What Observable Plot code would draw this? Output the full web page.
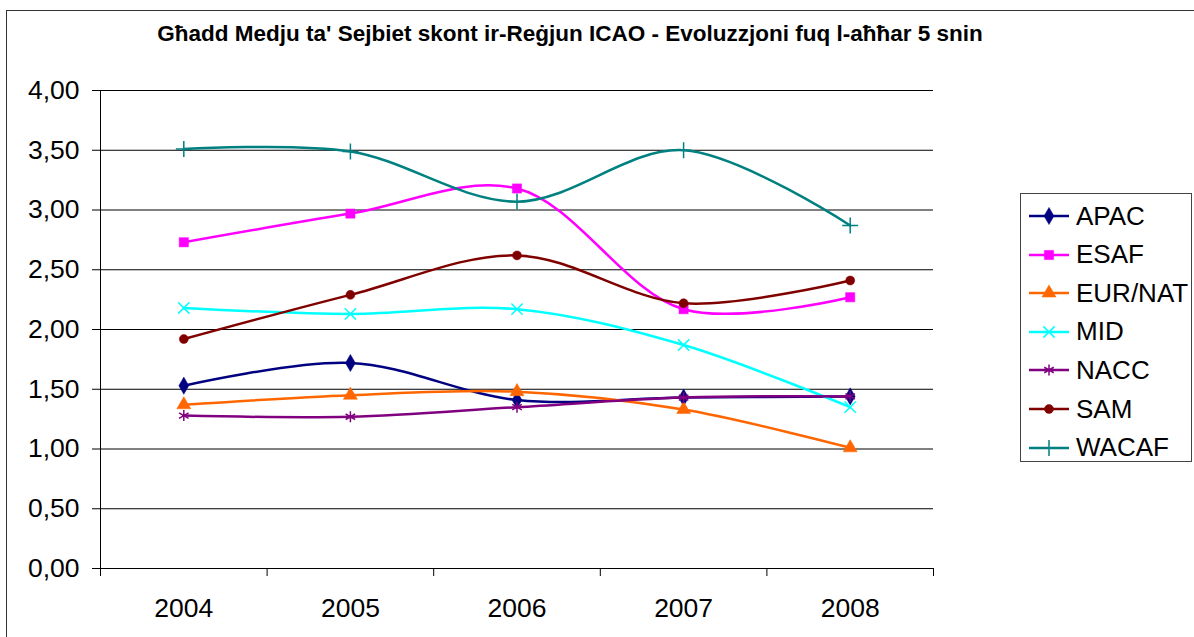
<!DOCTYPE html>
<html>
<head>
<meta charset="utf-8">
<script src="https://cdn.jsdelivr.net/npm/d3@7"></script>
<script src="https://cdn.jsdelivr.net/npm/@observablehq/plot@0.6"></script>
<style>
  html, body { margin: 0; padding: 0; background: #fff; overflow: hidden; }
  #wrap { position: relative; width: 1194px; height: 637px; font-family: "Liberation Sans", Arial, sans-serif; }
  #frame { position: absolute; left: 6px; top: 10px; width: 1300px; height: 700px; border-left: 1.5px solid #333; border-top: 1.5px solid #333; }
  #title { position: absolute; left: 0; width: 1140px; top: 21px; text-align: center; font-weight: bold; font-size: 22.5px; color: #000; font-family: "Liberation Sans", Arial, sans-serif; }
  #chart { position: absolute; left: 0; top: 0; }
  #legend { position: absolute; left: 1020px; top: 193px; width: 172px; height: 269px; border: 1px solid #444; box-sizing: border-box; background: #fff; }
  .row { position: absolute; left: 8px; height: 30px; display: flex; align-items: center; font-size: 26px; color: #000; }
  .row svg { margin-right: 7px; }
</style>
</head>
<body>
<div id="wrap">
  <div id="frame"></div>
  <div id="chart"></div>
  <div id="title">Għadd Medju ta' Sejbiet skont ir-Reġjun ICAO - Evoluzzjoni fuq l-aħħar 5 snin</div>
  <div id="legend"></div>
</div>
<script>
const years = [2004, 2005, 2006, 2007, 2008];
const yTicks = [0, 0.5, 1, 1.5, 2, 2.5, 3, 3.5, 4];

const APAC   = [1.53, 1.72, 1.41, 1.43, 1.44];
const ESAF   = [2.73, 2.97, 3.18, 2.17, 2.27];
const EURNAT = [1.37, 1.45, 1.48, 1.33, 1.01];
const MID    = [2.18, 2.13, 2.17, 1.87, 1.35];
const NACC   = [1.28, 1.27, 1.35, 1.43, 1.44];
const SAM    = [1.92, 2.29, 2.62, 2.22, 2.41];
const WACAF  = [3.51, 3.49, 3.07, 3.50, 2.87];

const seriesNames = ["APAC", "ESAF", "EUR/NAT", "MID", "NACC", "SAM", "WACAF"];
const seriesValues = [APAC, ESAF, EURNAT, MID, NACC, SAM, WACAF];
const seriesColors = ["#000080", "#FF00FF", "#FF6600", "#00FFFF", "#800080", "#800000", "#008080"];
const seriesSymbols = ["diamond", "square", "triangle", "times", "asterisk", "circle", "plus"];
const filledSymbols = ["diamond", "square", "triangle", "circle"];

const fmt = d => d.toFixed(2).replace(".", ",");
const boundaries = [years[0] - 0.5, ...years.map(y => y + 0.5)];

const marks = [
  Plot.ruleY(yTicks, {stroke: "#000", strokeWidth: 1}),
  Plot.ruleX([boundaries[0]], {y1: 0, y2: 4, stroke: "#000"}),
  Plot.axisY({ticks: yTicks, tickSize: 8, tickPadding: 13, tickFormat: fmt, fontSize: 26.5, stroke: "#000", label: null}),
  Plot.axisX({ticks: years, tickSize: 0, tickPadding: 30, tickFormat: d => String(d), fontSize: 26.5, label: null}),
  Plot.axisX({ticks: boundaries, tickSize: 8, tickFormat: () => "", stroke: "#000", label: null})
];

seriesNames.forEach((name, i) => {
  const data = years.map((yr, j) => ({year: yr, value: seriesValues[i][j]}));
  const color = seriesColors[i];
  const sym = seriesSymbols[i];
  const filled = filledSymbols.includes(sym);
  marks.push(Plot.line(data, {x: "year", y: "value", stroke: color, strokeWidth: 2.5, curve: "catmull-rom"}));
  marks.push(Plot.dot(data, {
    x: "year", y: "value", symbol: () => sym, r: sym === "circle" ? 4.5 : 5.2,
    fill: filled ? color : "none", stroke: color, strokeWidth: filled ? 0.5 : 1.5
  }));
});

const chart = Plot.plot({
  width: 1194,
  height: 637,
  marginLeft: 100,
  marginRight: 261,
  marginTop: 90,
  marginBottom: 69,
  style: {fontFamily: "'Liberation Sans', Arial, sans-serif", color: "#000", background: "transparent"},
  x: {type: "linear", domain: [boundaries[0], boundaries[boundaries.length - 1]], label: null},
  y: {domain: [0, 4], label: null},
  symbol: {type: "identity"},
  marks
});
document.getElementById("chart").appendChild(chart);

// Legend
const legend = document.getElementById("legend");
const symMap = {diamond: d3.symbolDiamond, square: d3.symbolSquare, triangle: d3.symbolTriangle, times: d3.symbolTimes, asterisk: d3.symbolAsterisk, circle: d3.symbolCircle, plus: d3.symbolPlus};
seriesNames.forEach((name, i) => {
  const row = document.createElement("div");
  row.className = "row";
  row.style.top = (7 + i * 38.6) + "px";
  const color = seriesColors[i];
  const sym = seriesSymbols[i];
  const filled = filledSymbols.includes(sym);
  const r = sym === "circle" ? 4.5 : 5.2;
  const path = d3.symbol(symMap[sym], Math.PI * r * r)();
  row.innerHTML = `<svg width="40" height="20"><line x1="0" x2="40" y1="10" y2="10" stroke="${color}" stroke-width="2.5"/>` +
    `<path transform="translate(20,10)" d="${path}" fill="${filled ? color : "none"}" stroke="${color}" stroke-width="${filled ? 0.5 : 1.5}"/></svg>` +
    `<span>${name}</span>`;
  legend.appendChild(row);
});
</script>
</body>
</html>
